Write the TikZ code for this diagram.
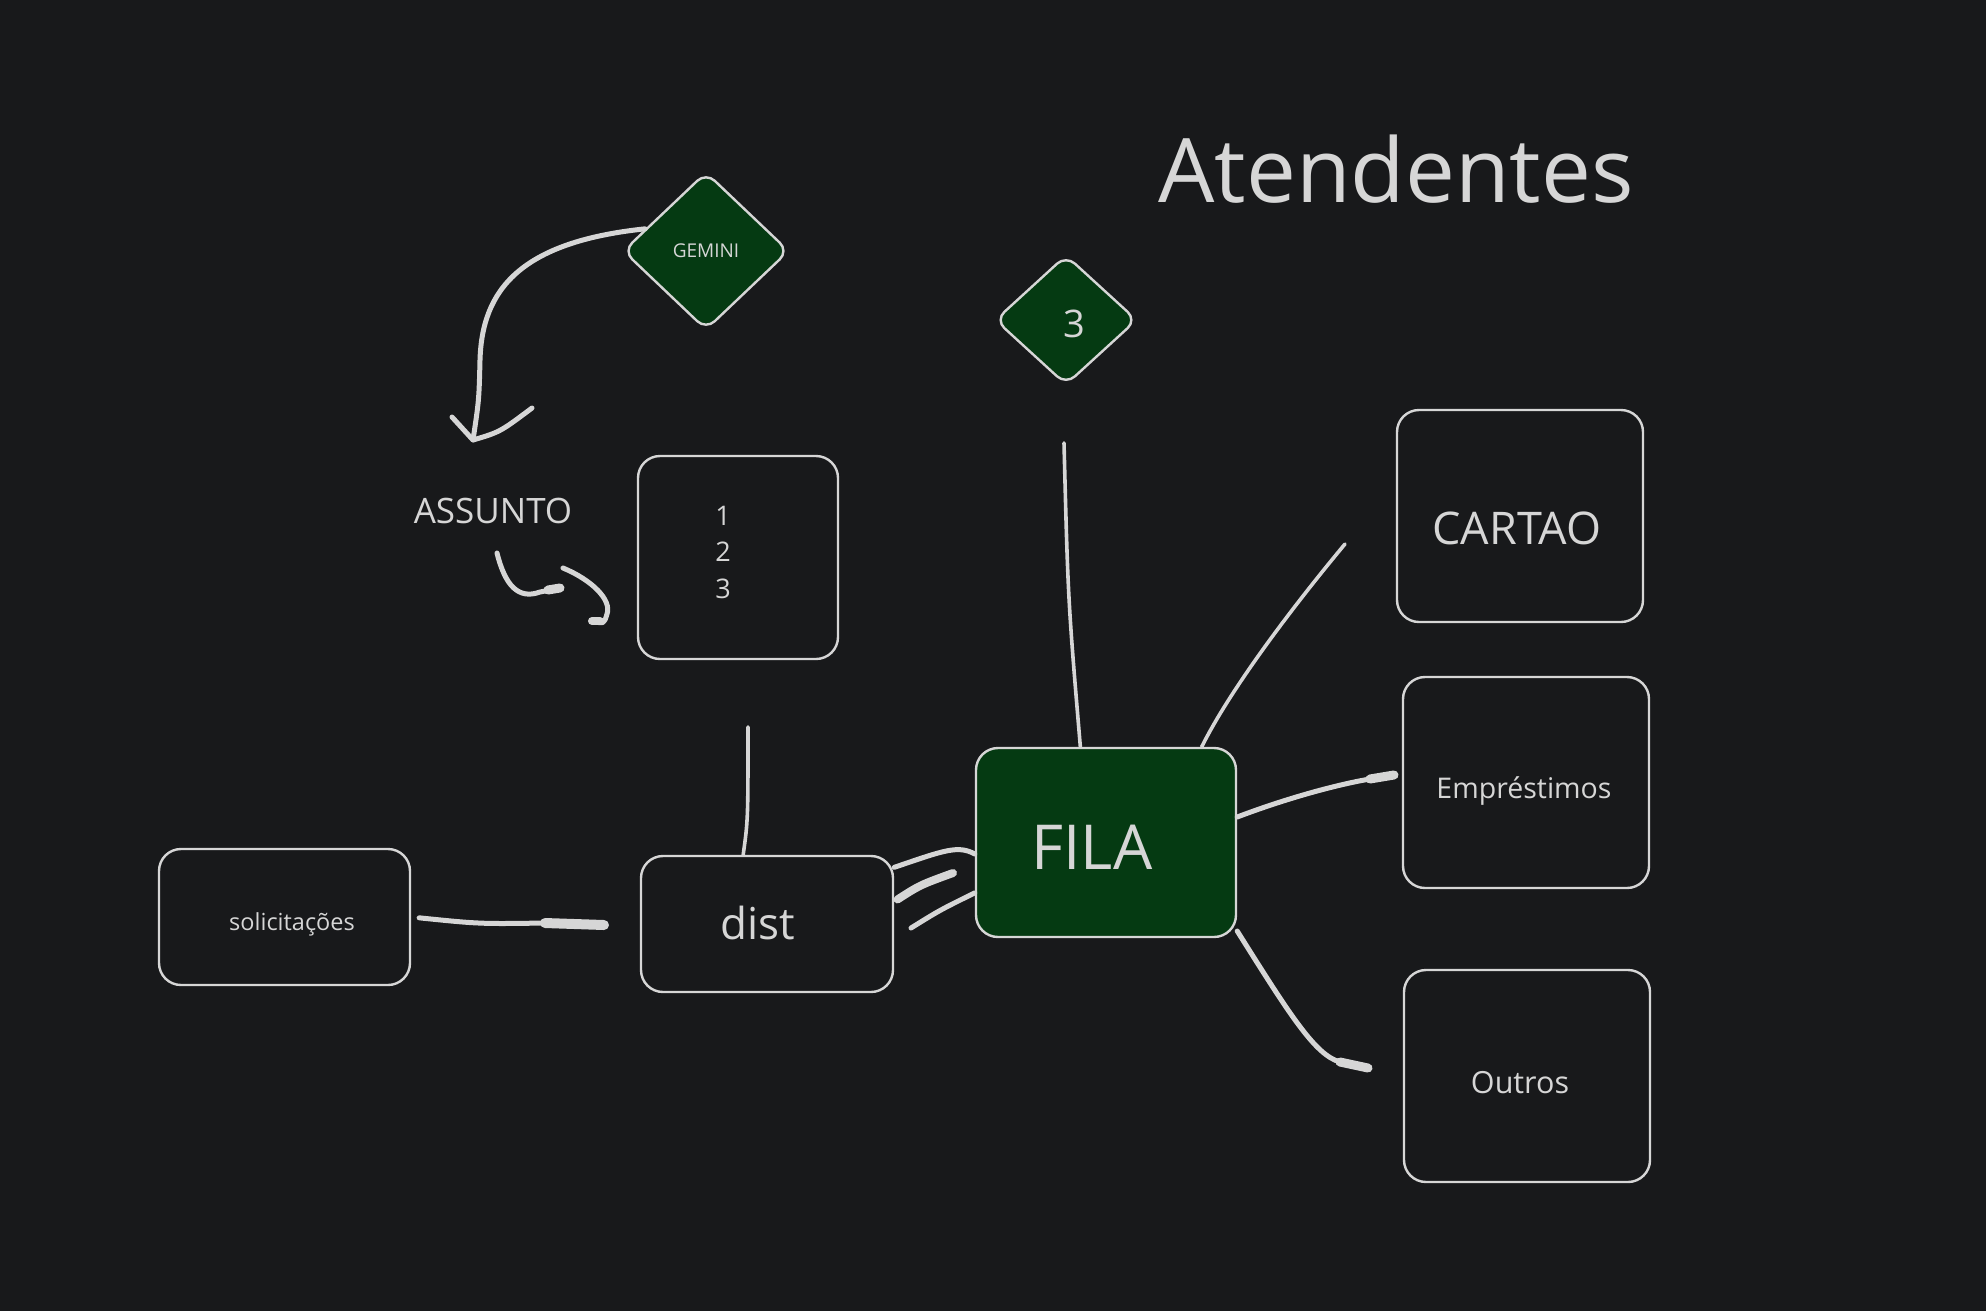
\documentclass[tikz,border=0pt]{standalone}
\usepackage{fontspec}
\setmainfont{Open Sans}
\usetikzlibrary{shapes.geometric}
\definecolor{bg}{HTML}{18191B}
\definecolor{ink}{HTML}{D6D6D6}
\definecolor{leaf}{HTML}{053A12}
\begin{document}
\begin{tikzpicture}[x=1pt,y=-1pt,
  box/.style={draw=ink, line width=2.4pt, rounded corners=22pt, inner sep=0pt},
  gem/.style={diamond, draw=ink, fill=leaf, line width=2.4pt, rounded corners=12pt, inner sep=0pt},
  lbl/.style={text=ink, inner sep=0pt, anchor=base},
  conn/.style={draw=ink, line width=5pt, line cap=round, line join=round},
  thin conn/.style={conn, line width=3.6pt},
  blob/.style={conn, line width=10pt}]
\useasboundingbox (0,0) rectangle (1986,1310);
\fill[bg] (-10,-10) rectangle (1996,1320);

% title
\node[lbl, font=\fontsize{89}{100}\selectfont] (title) at (1396,202) {Atendentes};

% diamonds
\node[gem, minimum width=166pt, minimum height=158pt] (gemini) at (706,251) {};
\node[lbl, font=\fontsize{19}{22}\selectfont] (geminiT) at (706,257) {GEMINI};
\node[gem, minimum width=142pt, minimum height=130pt] (three) at (1066,320) {};
\node[lbl, font=\fontsize{38}{44}\selectfont] (threeT) at (1074,337) {3};

% boxes
\node[box, minimum width=200pt, minimum height=203pt] (list) at (738,557.5) {};
\node[lbl, font=\fontsize{27}{36.5}\selectfont, align=left, anchor=north] (listT) at (723,506) {1\\2\\3};
\node[box, minimum width=251pt, minimum height=136pt] (sol) at (284.5,917) {};
\node[lbl, font=\fontsize{23.5}{28}\selectfont] (solT) at (292,930) {solicitações};
\node[box, minimum width=252pt, minimum height=136pt] (dist) at (767,924) {};
\node[lbl, font=\fontsize{44}{50}\selectfont] (distT) at (758,939) {dist};
\node[box, fill=leaf, minimum width=260pt, minimum height=189pt] (fila) at (1106,842.5) {};
\node[lbl, font=\fontsize{62}{70}\selectfont] (filaT) at (1092,869) {FILA};
\node[box, minimum width=246pt, minimum height=212pt] (cartao) at (1520,516) {};
\node[lbl, font=\fontsize{45}{52}\selectfont] (cartaoT) at (1517,544) {CARTAO};
\node[box, minimum width=246pt, minimum height=211pt] (emp) at (1526,782.5) {};
\node[lbl, font=\fontsize{28.5}{34}\selectfont] (empT) at (1524,798) {Empréstimos};
\node[box, minimum width=246pt, minimum height=212pt] (outros) at (1527,1076) {};
\node[lbl, font=\fontsize{30.5}{36}\selectfont] (outrosT) at (1520,1093) {Outros};

% ASSUNTO label
\node[lbl, font=\fontsize{35}{40}\selectfont] (assunto) at (493,523) {ASSUNTO};

% free ends
\coordinate (a1) at (473,440);
\coordinate (a2) at (452,417);
\coordinate (a3) at (532,408);
\coordinate (s1) at (497,553);
\coordinate (s2) at (560,588);
\coordinate (s3) at (563,568);
\coordinate (s4) at (592,621);
\coordinate (v1) at (748,727);
\coordinate (k0) at (545,923);
\coordinate (k1) at (604,925);
\coordinate (t2) at (953,873);
\coordinate (t3) at (911,928);
\coordinate (d3) at (1064,443);
\coordinate (c1) at (1345,544);
\coordinate (e0) at (1370,779);
\coordinate (e1) at (1394,775);
\coordinate (o0) at (1340,1062);
\coordinate (o1) at (1368,1068);

% gemini arrow
\draw[conn] (gemini.160) .. controls (520,242) and (482,290) .. (480,360) .. controls (479,400) .. (a1);
\draw[conn] (a2) -- (a1) .. controls (500,432) .. (a3);

% squiggle under ASSUNTO
\draw[conn] (s1) .. controls (505,585) and (518,600) .. (540,592) -- (s2);
\draw[conn, line width=9pt] (548,590) -- (s2);
\draw[conn] (s3) .. controls (592,580) and (612,600) .. (607,614) .. controls (604,624) .. (s4);
\draw[conn, line width=8pt] (600,621) -- (s4);

% to dist
\draw[thin conn] (v1) .. controls (748,820) .. (dist.109);
\draw[conn, shorten <=8pt] (sol.east) .. controls (480,924) .. (k0);
\draw[blob] (k0) -- (k1);

% dist to FILA
\draw[conn] (dist.24) .. controls (945,850) and (958,845) .. (fila.185);
\draw[conn, line width=8pt, shorten <=4pt] (dist.10) .. controls (920,885) .. (t2);
\draw[conn] (t3) .. controls (940,910) .. (fila.201);

% FILA connections
\draw[thin conn] (d3) .. controls (1068,600) .. (fila.105);
\draw[thin conn] (fila.45) .. controls (1230,690) and (1290,610) .. (c1);
\draw[conn] (fila.11) .. controls (1290,797) and (1340,784) .. (e0);
\draw[blob, line width=9pt] (e0) -- (e1);
\draw[conn] (fila.-34) .. controls (1290,1015) and (1315,1055) .. (o0);
\draw[blob, line width=9pt] (o0) -- (o1);
\end{tikzpicture}
\end{document}
